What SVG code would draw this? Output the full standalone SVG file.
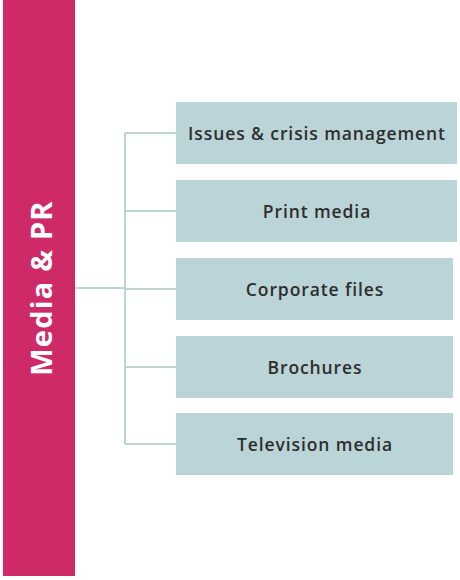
<svg xmlns="http://www.w3.org/2000/svg" width="460" height="580" viewBox="0 0 460 580">
<style>
.box{fill:#BAD4D7;}
.lbl{font-family:"Open Sans","Liberation Sans",sans-serif;font-weight:600;font-size:17.5px;letter-spacing:0.9px;fill:#2E2E2E;text-anchor:middle;dominant-baseline:central;}
.conn{stroke:#BAD4D7;stroke-width:2;fill:none;}
</style>
<rect width="460" height="580" fill="#ffffff"/>
<g id="connectors">
<path class="conn" d="M75 288 H125 M125 133 V444 M125 133 H176 M125 211 H176 M125 289 H176 M125 367 H176 M125 444 H176"/>
</g>
<g id="media-pr">
<rect x="3" y="0" width="72" height="576" fill="#CE2A68"/>
<text transform="translate(40 288) rotate(-90)" font-family="'Open Sans','Liberation Sans',sans-serif" font-weight="700" font-size="29" letter-spacing="1.2" fill="#ffffff" text-anchor="middle" dominant-baseline="central">Media &amp; PR</text>
</g>
<g id="issues">
<rect class="box" x="176" y="102" width="281" height="62"/>
<text class="lbl" x="317" y="133">Issues &amp; crisis management</text>
</g>
<g id="print">
<rect class="box" x="176" y="180" width="281" height="62"/>
<text class="lbl" x="317" y="211">Print media</text>
</g>
<g id="corporate">
<rect class="box" x="176" y="258" width="277" height="62"/>
<text class="lbl" x="315" y="289">Corporate files</text>
</g>
<g id="brochures">
<rect class="box" x="176" y="336" width="277" height="62"/>
<text class="lbl" x="315" y="367">Brochures</text>
</g>
<g id="television">
<rect class="box" x="176" y="413" width="277" height="62"/>
<text class="lbl" x="315" y="444">Television media</text>
</g>
</svg>
